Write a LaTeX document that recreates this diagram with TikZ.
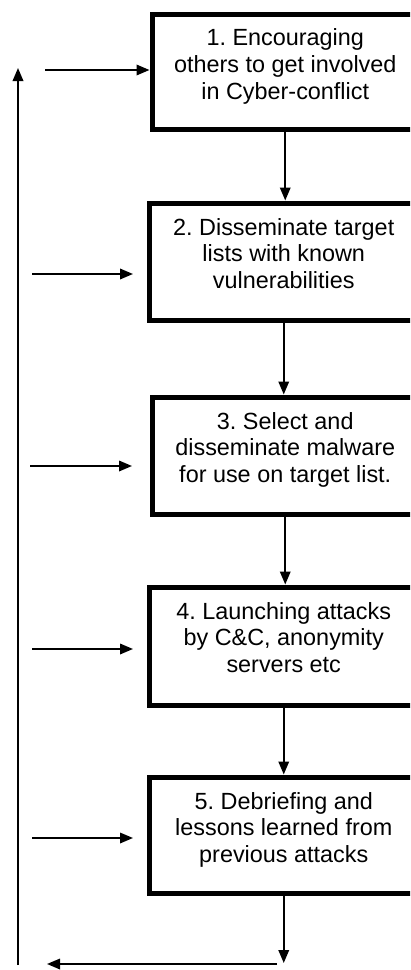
\documentclass[tikz,border=0pt]{standalone}
\usepackage{fontspec}
\setmainfont{Liberation Sans}
\usetikzlibrary{arrows.meta}
\frenchspacing
\tikzset{
  stepbox/.style={draw=black, line width=5pt, inner sep=0pt, anchor=north west, fill=white},
  txt/.style={inner sep=0pt, anchor=north, align=center, font=\frenchspacing\fontsize{23.4}{26.7}\selectfont},
  conn/.style={line width=1.8pt, -{Triangle[length=13pt,width=10.5pt]}},
}
\begin{document}
\begin{tikzpicture}[x=1pt,y=1pt]
\useasboundingbox (0,0) rectangle (410,-970);
\clip (0,0) rectangle (410,-970);
% boxes
\node[stepbox, minimum width=266.5pt, minimum height=115pt] (b1) at (149.5,-11.5) {};
\node[stepbox, minimum width=269.5pt, minimum height=117.5pt] (b2) at (146.5,-200.5) {};
\node[stepbox, minimum width=266.5pt, minimum height=117pt] (b3) at (149.5,-394.5) {};
\node[stepbox, minimum width=269.5pt, minimum height=118pt] (b4) at (146.5,-584.5) {};
\node[stepbox, minimum width=269.5pt, minimum height=116.5pt] (b5) at (146.5,-774.5) {};
% texts
\node[txt] (t1) at ([yshift=-17pt]b1.north) {1. Encouraging\\others to get involved\\in Cyber-conflict};
\node[txt] (t2) at ([yshift=-17.5pt]b2.north) {2. Disseminate target\\lists with known\\vulnerabilities};
\node[txt] (t3) at ([yshift=-17.5pt]b3.north) {3. Select and\\disseminate malware\\for use on target list.};
\node[txt] (t4) at ([yshift=-17.5pt]b4.north) {4. Launching attacks\\by C\&C, anonymity\\servers etc};
\node[txt] (t5) at ([yshift=-17.5pt]b5.north) {5. Debriefing and\\lessons learned from\\previous attacks};
% vertical connectors
\draw[conn] (b1.south) -- (b1.south |- b2.north);
\draw[conn] (b2.south) -- (b2.south |- b3.north);
\draw[conn] (b3.south) -- (b3.south |- b4.north);
\draw[conn] (b4.south) -- (b4.south |- b5.north);
\coordinate (d5) at (0,-963);
\draw[conn] (b5.south) -- (b5.south |- d5);
% side inputs
\coordinate (s1) at (45,-70);
\coordinate (s2) at (32,-274);
\coordinate (e2) at (133,-274);
\coordinate (s3) at (30,-466);
\coordinate (e3) at (132,-466);
\coordinate (s4) at (32,-649);
\coordinate (e4) at (133,-649);
\coordinate (s5) at (32,-838);
\coordinate (e5) at (133,-838);
\draw[conn] (s1) -- (s1 -| b1.west);
\draw[conn] (s2) -- (e2);
\draw[conn] (s3) -- (e3);
\draw[conn] (s4) -- (e4);
\draw[conn] (s5) -- (e5);
% feedback loop
\coordinate (h1) at (277,-964);
\coordinate (h2) at (47,-964);
\draw[conn] (h1) -- (h2);
\coordinate (v1) at (18,-965);
\coordinate (v2) at (18,-68);
\draw[conn] (v1) -- (v2);
\end{tikzpicture}
\end{document}
